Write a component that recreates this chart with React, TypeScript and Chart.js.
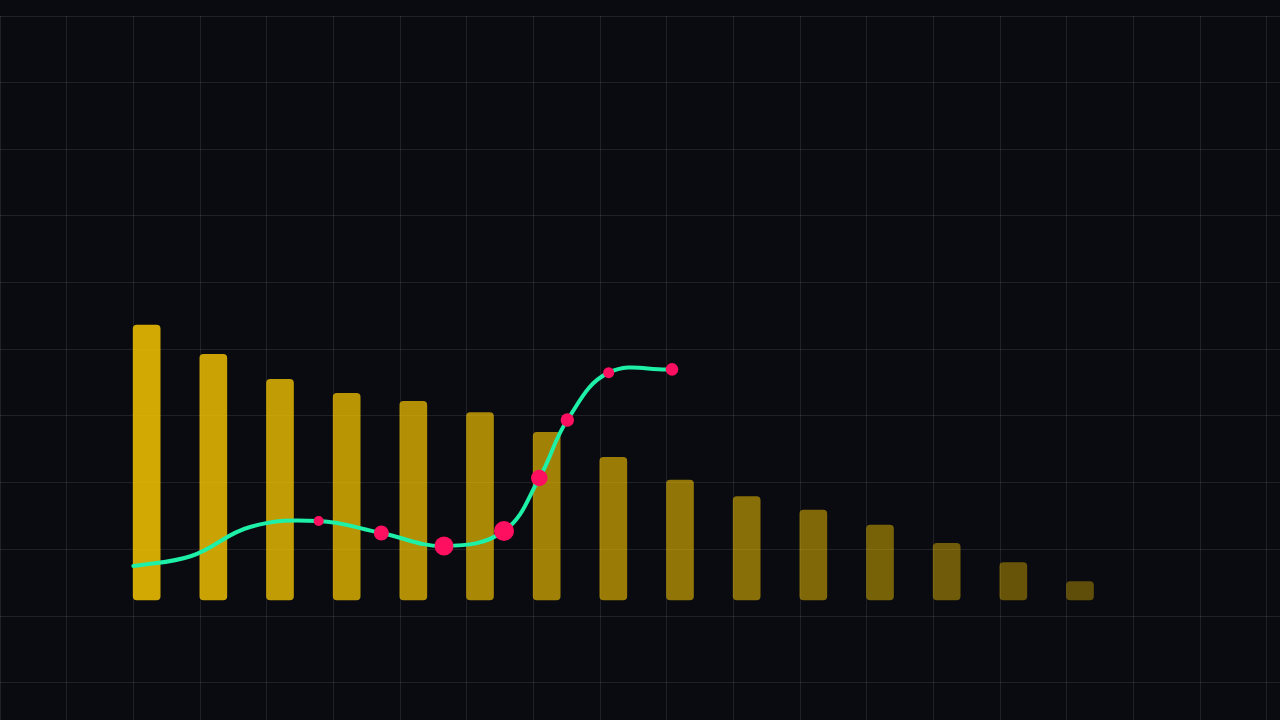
import React, { useEffect, useRef } from "react";
import { Chart, registerables } from "chart.js";

Chart.register(...registerables);

// ---- data ----
const CATEGORIES = ["01", "02", "03", "04", "05", "06", "07", "08", "09", "10", "11", "12", "13", "14", "15"];
const BAR_VALUES = [41.25, 36.85, 33.1, 31.0, 29.8, 28.1, 25.15, 21.4, 18.0, 15.5, 13.5, 11.25, 8.5, 5.6, 2.75];
const LINE_X = [2.0, 2.87, 3.75, 4.78, 5.72, 6.66, 7.56, 8.09, 8.51, 9.13, 10.08];
const LINE_Y = [5.1, 6.6, 10.95, 11.85, 10.05, 8.1, 10.35, 18.3, 27.0, 34.1, 34.6];
const LINE_MARKER_SIZE = [0, 0, 0, 5, 7.5, 9.5, 10, 8.3, 6.7, 5.5, 6.3];
const X_TICKS = [0, 1, 2, 3, 4, 5, 6, 7, 8, 9, 10, 11, 12, 13, 14, 15, 16, 17, 18, 19];
const Y_TICKS = [87.6, 77.6, 67.6, 57.6, 47.6, 37.6, 27.6, 17.6, 7.6, -2.4, -12.4];

// ---- style ----
const BG = "#0a0b10";
const GRID = "rgba(255,255,255,0.09)";
const LINE_COLOR = "#1ef0a8";
const POINT_COLOR = "#ff0f5f";
const FIRST_SLOT = 2;
const BAR_SHIFT = 0.2;

export default function App() {
  const ref = useRef<HTMLCanvasElement>(null);

  useEffect(() => {
    document.body.style.margin = "0";
    document.body.style.background = BG;
    const n = CATEGORIES.length;
    const chart = new Chart(ref.current!, {
      type: "bar",
      data: {
        datasets: [
          {
            type: "line",
            data: LINE_X.map((x, i) => ({ x, y: LINE_Y[i] })),
            borderColor: LINE_COLOR,
            borderWidth: 4,
            tension: 0.4,
            borderCapStyle: "round",
            fill: false,
            pointRadius: LINE_MARKER_SIZE,
            pointBackgroundColor: POINT_COLOR,
            pointBorderWidth: 0,
            order: 1,
          } as any,
          {
            type: "bar",
            data: BAR_VALUES.map((v, i) => ({ x: FIRST_SLOT + i + BAR_SHIFT, y: v })),
            backgroundColor: BAR_VALUES.map((_, i) => `rgba(255,204,0,${(0.82 - (i * 0.47) / (n - 1)).toFixed(3)})`),
            barThickness: 27,
            borderRadius: 4,
            borderSkipped: false,
            order: 2,
          } as any,
        ],
      },
      options: {
        animation: false,
        responsive: true,
        maintainAspectRatio: false,
        events: [],
        layout: { autoPadding: false, padding: { top: 16, left: 0, right: 0, bottom: 0 } },
        plugins: { legend: { display: false }, tooltip: { enabled: false } },
        scales: {
          x: {
            type: "linear",
            min: 0,
            max: 19.2,
            offset: false,
            ticks: { display: false },
            grid: { color: GRID, lineWidth: 1, drawTicks: false, offset: false },
            border: { display: false },
            afterBuildTicks: (s: any) => {
              s.ticks = X_TICKS.map((value) => ({ value }));
            },
          },
          y: {
            type: "linear",
            min: -18,
            max: 87.6,
            ticks: { display: false },
            grid: { color: GRID, lineWidth: 1, drawTicks: false },
            border: { display: false },
            afterBuildTicks: (s: any) => {
              s.ticks = Y_TICKS.map((value) => ({ value }));
            },
          },
        },
      } as any,
    });
    return () => chart.destroy();
  }, []);

  return (
    <div style={{ position: "fixed", left: 0, top: 0, width: 1280, height: 720, background: BG }}>
      <canvas ref={ref} />
    </div>
  );
}
